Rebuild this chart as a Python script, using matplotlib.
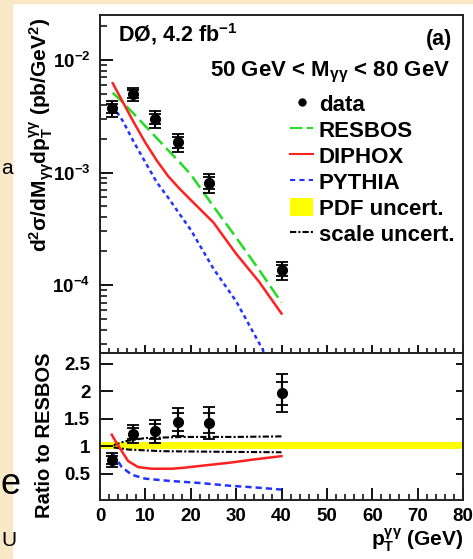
import numpy as np
import matplotlib
matplotlib.use("Agg")
import matplotlib.pyplot as plt
from matplotlib.lines import Line2D
from matplotlib.patches import Patch, Rectangle
from matplotlib.ticker import LogLocator, LogFormatterMathtext, MultipleLocator, NullFormatter

plt.rcParams['font.family'] = ['Liberation Sans', 'DejaVu Sans']
plt.rcParams['font.weight'] = 'bold'
plt.rcParams['mathtext.fontset'] = 'custom'
plt.rcParams['mathtext.rm'] = 'Liberation Sans:bold'
plt.rcParams['mathtext.it'] = 'Liberation Sans:bold'
plt.rcParams['mathtext.bf'] = 'Liberation Sans:bold'
plt.rcParams['mathtext.sf'] = 'Liberation Sans:bold'

# measured points, 50 < M_gg < 80 GeV
pt = [2.7, 7.3, 12.2, 17.3, 24.0, 40.0]
xsec = [3.73e-3, 4.97e-3, 2.98e-3, 1.86e-3, 8.15e-4, 1.35e-4]
xsec_tot = [0.60e-3, 0.70e-3, 0.50e-3, 0.35e-3, 1.6e-4, 2.4e-5]
xsec_stat = [0.36e-3, 0.42e-3, 0.30e-3, 0.21e-3, 1.0e-4, 1.45e-5]

ratio = [0.745, 1.226, 1.27, 1.445, 1.43, 1.97]
ratio_tot = [0.125, 0.16, 0.21, 0.26, 0.29, 0.35]
ratio_stat = [0.075, 0.10, 0.13, 0.16, 0.18, 0.21]

# theory curves
th_x = [2.8, 5, 7.5, 10, 12.5, 15, 17.5, 20, 25, 30, 35, 40]
resbos = [5.1e-3, 4.2e-3, 3.3e-3, 2.58e-3, 2.02e-3, 1.58e-3, 1.24e-3, 9.6e-4, 5.0e-4, 2.65e-4, 1.38e-4, 7.0e-5]
diphox = [6.2e-3, 4.24e-3, 2.76e-3, 1.84e-3, 1.28e-3, 9.3e-4, 7.2e-4, 5.7e-4, 3.6e-4, 1.9e-4, 1.08e-4, 5.6e-5]
pythia = [3.9e-3, 2.88e-3, 1.85e-3, 1.23e-3, 8.2e-4, 6.0e-4, 4.3e-4, 3.1e-4, 1.4e-4, 7.2e-5, 3.1e-5, 1.3e-5]

# ratios to RESBOS
diphox_rx = [2.6, 3.5, 4.8, 6.2, 8.4, 11.4, 15.8, 18.7, 23, 28.6, 34, 40]
diphox_r = [1.21, 1.08, 0.91, 0.73, 0.62, 0.59, 0.59, 0.61, 0.65, 0.70, 0.76, 0.82]
pythia_rx = [2.8, 4.8, 7, 9.9, 15, 22, 28.6, 34, 40]
pythia_r = [0.87, 0.62, 0.48, 0.41, 0.37, 0.33, 0.28, 0.25, 0.21]
scale_up_x = [3, 5.5, 10, 18.7, 30, 40]
scale_up = [1.02, 1.09, 1.15, 1.17, 1.17, 1.18]
scale_dn_x = [3, 6.2, 13.6, 25, 40]
scale_dn = [0.98, 0.94, 0.91, 0.90, 0.89]
pdf_x = [0, 80]
pdf_lo = [0.945, 0.945]
pdf_hi = [1.07, 1.07]

W, H = 473, 559
fig = plt.figure(figsize=(W / 100, H / 100), dpi=100)
fig.patch.set_facecolor('white')

# slide background strip
fig.patches.append(Rectangle((0, 0), 12 / W, 1, transform=fig.transFigure, color='#f8e8c6', zorder=0))
fig.patches.append(Rectangle((0, 1 - 3 / H), 1, 3 / H, transform=fig.transFigure, color='#f8e8c6', zorder=0))
fig.text(1 / W, 1 - 168 / H, 'a', fontsize=15, fontweight='normal', va='center', ha='left')
fig.text(1 / W, 1 - 484 / H, 'e', fontsize=26, fontweight='normal', va='center', ha='left')
fig.text(1 / W, 1 - 540 / H, 'U', fontsize=15, fontweight='normal', va='center', ha='left')

L, R = 100, 463
ax = fig.add_axes([L / W, 1 - 353 / H, (R - L) / W, (353 - 15) / H])
ax2 = fig.add_axes([L / W, 1 - 500 / H, (R - L) / W, (500 - 353) / H])

green, red, blue = '#22dd22', '#ff2020', '#2233ff'
lw = 1.8

ax.plot(th_x, resbos, color=green, lw=lw, dashes=(5.5, 2.2))
ax.plot(th_x, diphox, color=red, lw=lw)
ax.plot(th_x, pythia, color=blue, lw=lw, dashes=(1.6, 1.4))
ax.errorbar(pt, xsec, yerr=xsec_tot, fmt='none', ecolor='black', elinewidth=1.5, capsize=4, capthick=1.3)
ax.errorbar(pt, xsec, yerr=xsec_stat, fmt='o', color='black', ms=7, elinewidth=1.5, capsize=4, capthick=1.3)

ax.set_yscale('log')
ax.set_xlim(0, 80)
ax.set_ylim(2.5e-5, 2.5e-2)
ax.yaxis.set_major_locator(LogLocator(base=10))
ax.yaxis.set_minor_locator(LogLocator(base=10, subs=np.arange(2, 10)))
ax.yaxis.set_major_formatter(LogFormatterMathtext())
ax.yaxis.set_minor_formatter(NullFormatter())
ax.xaxis.set_major_locator(MultipleLocator(10))
ax.xaxis.set_minor_locator(MultipleLocator(2))
ax.tick_params(axis='y', which='major', direction='in', length=9.4, width=1.3, labelsize=13.5, pad=7, right=False)
ax.tick_params(axis='y', which='minor', direction='in', length=5, width=1.1, right=False)
ax.tick_params(axis='x', which='major', direction='in', length=5.8, width=1.3, labelbottom=False, top=False)
ax.tick_params(axis='x', which='minor', direction='in', length=3.6, width=1.1, top=False)

ax.text(0.05, 0.921, r'DØ, 4.2 fb$^{-1}$', transform=ax.transAxes, fontsize=15.5, ha='left', va='baseline')
ax.text(0.969, 0.911, '(a)', transform=ax.transAxes, fontsize=15.5, ha='right', va='baseline')
ax.text(0.964, 0.8195, r'50 GeV < M$_{γγ}$ < 80 GeV', transform=ax.transAxes, fontsize=16, ha='right', va='baseline')

handles = [
    Line2D([], [], ls='none', marker='o', color='black', ms=5),
    Line2D([], [], color=green, lw=1.5, dashes=(6, 2)),
    Line2D([], [], color=red, lw=1.5),
    Line2D([], [], color=blue, lw=1.5, dashes=(2.5, 2)),
    Patch(facecolor='#ffff00', edgecolor='none'),
    Line2D([], [], color='black', lw=1.5, dashes=(3, 1, 1, 1)),
]
labels = ['data', 'RESBOS', 'DIPHOX', 'PYTHIA', 'PDF uncert.', 'scale uncert.']
ax.legend(handles, labels, loc='upper left', bbox_to_anchor=((290 - L) / (R - L), 1 - (94 - 15) / 338),
          frameon=False, fontsize=16, borderpad=0, borderaxespad=0, handlelength=1.05,
          handleheight=0.85, handletextpad=0.25, labelspacing=0.2)

# ratio panel
ax2.fill_between(pdf_x, pdf_lo, pdf_hi, color='#ffff00', lw=0)
ax2.plot(scale_up_x, scale_up, color='black', lw=1.5, dashes=(3, 1, 1, 1))
ax2.plot(scale_dn_x, scale_dn, color='black', lw=1.5, dashes=(3, 1, 1, 1))
ax2.plot(diphox_rx, diphox_r, color=red, lw=lw)
ax2.plot(pythia_rx, pythia_r, color=blue, lw=lw, dashes=(2.5, 1.6))
ax2.errorbar(pt, ratio, yerr=ratio_tot, fmt='none', ecolor='black', elinewidth=1.5, capsize=4, capthick=1.3)
ax2.errorbar(pt, ratio, yerr=ratio_stat, fmt='o', color='black', ms=7, elinewidth=1.5, capsize=4, capthick=1.3)

ax2.set_xlim(0, 80)
ax2.set_ylim(0.02, 2.7)
ax2.set_yticks([0.5, 1, 1.5, 2, 2.5])
ax2.set_yticklabels(['0.5', '1', '1.5', '2', '2.5'])
ax2.xaxis.set_major_locator(MultipleLocator(10))
ax2.xaxis.set_minor_locator(MultipleLocator(2))
ax2.tick_params(axis='y', which='major', direction='in', length=9.4, width=1.3, labelsize=13.5, pad=7)
ax2.tick_params(axis='x', which='major', direction='in', length=8.6, width=1.3, labelsize=13.5, pad=6, top=False)
ax2.tick_params(axis='x', which='minor', direction='in', length=4.3, width=1.1, top=False)
sec = ax2.secondary_yaxis('right')
sec.set_yticks([0.5, 1, 1.5, 2, 2.5])
sec.tick_params(direction='in', length=5, width=1.3, labelright=False)
sec.spines['right'].set_visible(False)

for a in (ax, ax2):
    for s in a.spines.values():
        s.set_linewidth(1.4)
        s.set_color('#222222')

fig.text(42 / W, 1 - 18 / H, r'd$^{2}$σ/dM$_{γγ}$dp$_{T}^{γγ}$ (pb/GeV$^{2}$)', rotation=90,
         fontsize=15, ha='center', va='top')
fig.text(45 / W, 1 - 353 / H, 'Ratio to RESBOS', rotation=90, fontsize=14.5, ha='center', va='top')
fig.text(R / W, 1 - 546 / H, r'p$_{T}^{γγ}$ (GeV)', fontsize=15, ha='right', va='baseline')

fig.savefig('out.png', dpi=100)
